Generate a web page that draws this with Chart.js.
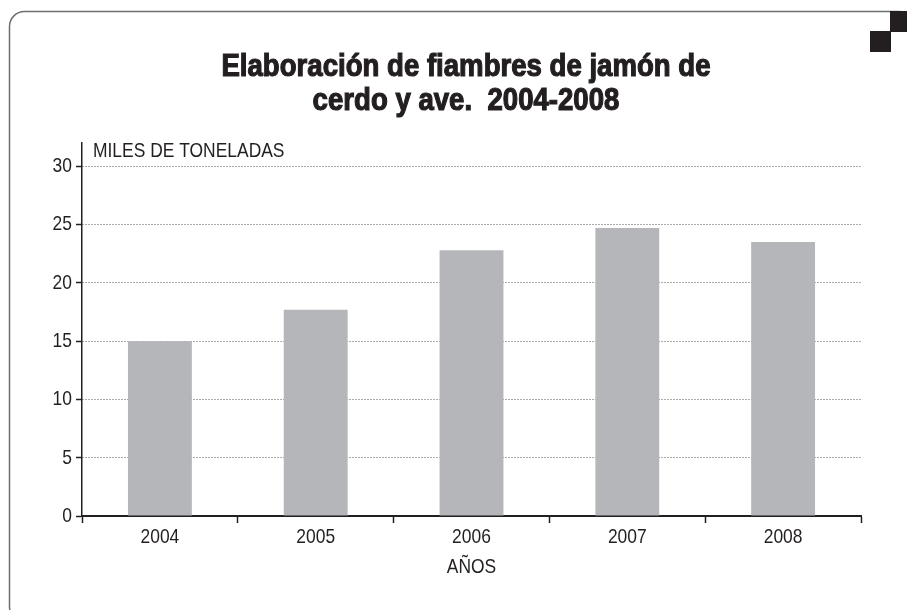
<!DOCTYPE html>
<html><head><meta charset="utf-8">
<script src="https://cdn.jsdelivr.net/npm/chart.js@4"></script>
<style>html,body{margin:0;padding:0;background:#fff;} canvas{display:block}</style>
</head><body><canvas id="c" width="907" height="610"></canvas>
<script>
const categories = ['2004', '2005', '2006', '2007', '2008'];
const values = [15.0, 17.7, 22.8, 24.7, 23.5];
const yTickValues = [0, 5, 10, 15, 20, 25, 30];
const titleLines = ['Elaboración de fiambres de jamón de', 'cerdo y ave.  2004-2008'];
const yAxisLabel = 'MILES DE TONELADAS';
const xAxisLabel = 'AÑOS';

const FONT = '"Liberation Sans", Arial, sans-serif';
const INK = '#231f20';

// Condensed look: draw every text horizontally narrowed around its anchor point.
const canvas = document.getElementById('c');
const ctx2d = canvas.getContext('2d');
let textScaleX = 0.83;
const origFillText = ctx2d.fillText.bind(ctx2d);
const origStrokeText = ctx2d.strokeText.bind(ctx2d);
ctx2d.fillText = function (text, x, y, maxWidth) {
  this.save();
  this.translate(x, y);
  this.scale(textScaleX, 1);
  if (maxWidth !== undefined) origFillText(text, 0, 0, maxWidth / textScaleX);
  else origFillText(text, 0, 0);
  this.restore();
};
ctx2d.strokeText = function (text, x, y) {
  this.save();
  this.translate(x, y);
  this.scale(textScaleX, 1);
  origStrokeText(text, 0, 0);
  this.restore();
};

const decor = {
  id: 'decor',
  beforeDraw(chart) {
    const ctx = chart.ctx;
    ctx.save();
    ctx.fillStyle = '#fff';
    ctx.fillRect(0, 0, chart.width, chart.height);
    ctx.strokeStyle = '#6d6e71';
    ctx.lineWidth = 1.5;
    const x = 9.5, y = 11.5, w = 905, h = 610, r = 15;
    ctx.beginPath();
    ctx.moveTo(x + r, y);
    ctx.lineTo(x + w - r, y);
    ctx.arcTo(x + w, y, x + w, y + r, r);
    ctx.lineTo(x + w, y + h - r);
    ctx.arcTo(x + w, y + h, x + w - r, y + h, r);
    ctx.lineTo(x + r, y + h);
    ctx.arcTo(x, y + h, x, y + h - r, r);
    ctx.lineTo(x, y + r);
    ctx.arcTo(x, y, x + r, y, r);
    ctx.stroke();
    ctx.fillStyle = INK;
    ctx.fillRect(890, 11, 21, 21);
    ctx.fillRect(870, 31, 21, 21);
    ctx.restore();
  },
  afterDraw(chart) {
    const ctx = chart.ctx;
    const ca = chart.chartArea;
    ctx.save();
    ctx.fillStyle = INK;
    ctx.strokeStyle = INK;
    ctx.textBaseline = 'alphabetic';
    // title
    textScaleX = 0.89;
    ctx.textAlign = 'center';
    ctx.font = 'bold 31px ' + FONT;
    ctx.lineWidth = 1.2;
    const cx = 466;
    const baselines = [76, 110];
    titleLines.forEach((t, i) => {
      ctx.fillText(t, cx, baselines[i]);
      ctx.strokeText(t, cx, baselines[i]);
    });
    // y axis unit label
    textScaleX = 0.83;
    ctx.textAlign = 'left';
    ctx.font = '21px ' + FONT;
    ctx.fillText(yAxisLabel, ca.left + 11, ca.top + 14);
    ctx.restore();
  }
};

new Chart(canvas, {
  type: 'bar',
  data: {
    labels: categories,
    datasets: [{
      data: values,
      backgroundColor: '#b5b6b9',
      borderWidth: 0,
      barPercentage: 0.41,
      categoryPercentage: 1.0
    }]
  },
  plugins: [decor],
  options: {
    responsive: false,
    animation: false,
    devicePixelRatio: 1,
    layout: { padding: { left: 10, right: 46, top: 143, bottom: 20 } },
    plugins: { legend: { display: false }, tooltip: { enabled: false }, title: { display: false } },
    scales: {
      x: {
        grid: { display: true, drawOnChartArea: false, drawTicks: true, tickLength: 7, tickColor: INK, tickWidth: 1.5, offset: true },
        border: { color: INK, width: 2 },
        ticks: { color: INK, font: { size: 21, family: FONT }, padding: 2 },
        title: { display: true, text: xAxisLabel, color: INK, font: { size: 21, family: FONT }, padding: { top: 0, bottom: 10 } },
        afterFit: s => { s.height = 74; }
      },
      y: {
        min: 0,
        max: 32,
        afterBuildTicks: s => { s.ticks = yTickValues.map(v => ({ value: v })); },
        grid: { color: '#58595b', lineWidth: 1, drawTicks: true, tickLength: 6, tickColor: INK, tickWidth: 1.5 },
        border: { color: INK, width: 1.5, dash: [1, 2] },
        ticks: { color: INK, font: { size: 21, family: FONT }, padding: 4 },
        afterFit: s => { s.width = 72; }
      }
    }
  }
});
</script>
</body></html>
